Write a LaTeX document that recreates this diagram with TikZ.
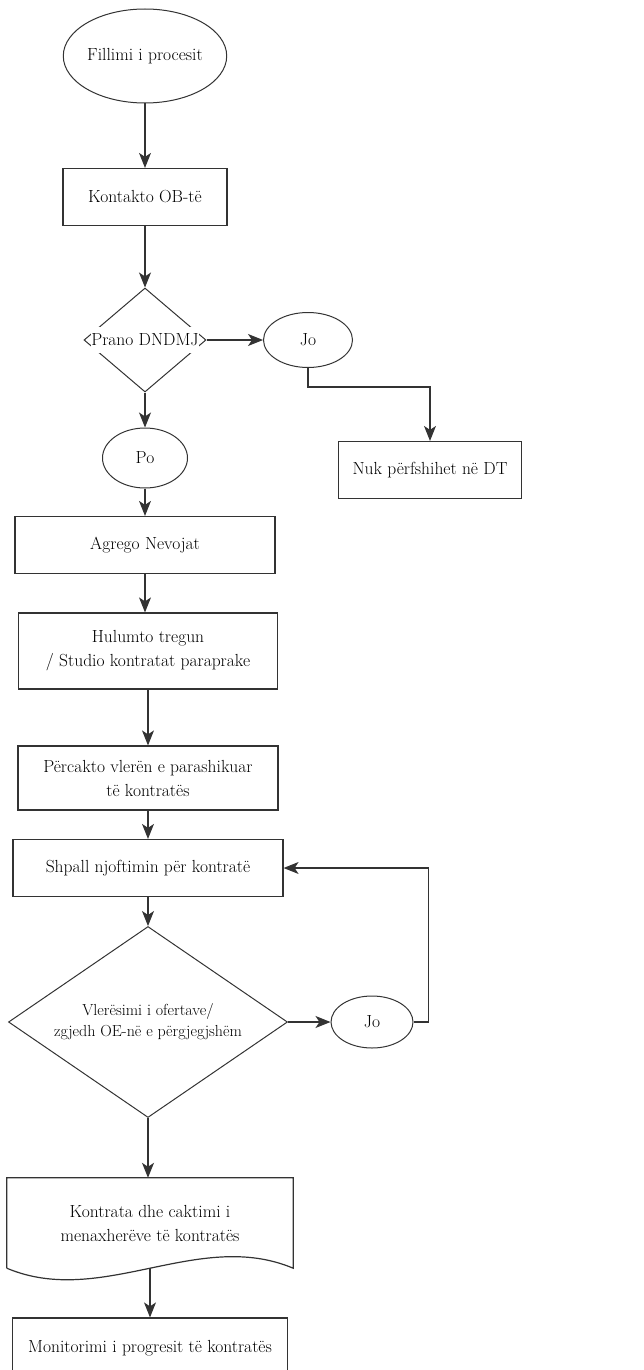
\documentclass[tikz,border=0pt]{standalone}
\usetikzlibrary{arrows.meta,positioning,shapes.geometric}
\definecolor{Edge}{HTML}{333333}

\begin{document}
\begin{tikzpicture}[x=1pt,y=-1pt,font=\fontsize{17.5}{24}\selectfont,
          flow/.style={-{Stealth[length=15pt,width=12pt,inset=4pt]},
            line width=1.1pt,draw=Edge},
          terminal/.style={ellipse,draw=Edge,line width=1pt,inner sep=0pt},
          stepbox/.style={rectangle,draw=Edge,line width=1.2pt,
            inner sep=0pt,align=center},
          decision/.style={diamond,draw=Edge,line width=1pt,inner sep=0pt}]
        \clip (0,0) rectangle (644,1370);

        \node[terminal,minimum width=156pt,minimum height=94pt]
          (start) at (145,56) {Fillimi i procesit};
        \node[stepbox,minimum width=164pt,minimum height=57pt]
          (kontakto) at (145,197) {Kontakto OB-të};

        \node[decision,minimum width=122pt,minimum height=104pt]
          (prano) at (145,340) {};
        \node[fill=white,inner sep=0pt,minimum width=108pt,minimum height=26pt]
          (pranolbl) at (prano.center) {Prano DNDMJ};
        \node[terminal,minimum width=89pt,minimum height=55pt]
          (jo1) at (308,340) {Jo};
        \node[stepbox,minimum width=183pt,minimum height=57pt]
          (nuk) at (430,470) {Nuk përfshihet në DT};
        \node[terminal,minimum width=85pt,minimum height=60pt]
          (po) at (145,458) {Po};

        \node[stepbox,minimum width=260pt,minimum height=57pt]
          (agrego) at (145,545) {Agrego Nevojat};
        \node[stepbox,minimum width=259pt,minimum height=76pt]
          (hulumto) at (148,651) {Hulumto tregun\\/ Studio kontratat paraprake};
        \node[stepbox,minimum width=260pt,minimum height=64pt]
          (percakto) at (148,778) {Përcakto vlerën e parashikuar\\të kontratës};
        \node[stepbox,minimum width=270pt,minimum height=57pt]
          (shpall) at (148,868) {Shpall njoftimin për kontratë};

        \node[decision,minimum width=279pt,minimum height=191pt]
          (vleresimi) at (148,1022) {};
        \node[font=\fontsize{16}{21}\selectfont,align=center,inner sep=0pt]
          (vleresimilbl) at (vleresimi.center)
          {Vlerësimi i ofertave/\\zgjedh OE-në e përgjegjshëm};
        \node[terminal,minimum width=82pt,minimum height=52pt]
          (jo2) at (372,1022) {Jo};

        % document shape: box without border, wavy bottom drawn by hand
        \node[rectangle,inner sep=0pt,minimum width=286pt,minimum height=90pt,
                align=center]
          (kontrata) at (150,1223)
          {Kontrata dhe caktimi i\\menaxherëve të kontratës};
        \draw[Edge,line width=1.2pt] (kontrata.south west) -- (kontrata.north west)
          -- (kontrata.north east) -- (kontrata.south east)
          .. controls +(-95,-40) and +(95,40) .. (kontrata.south west);
        \node[stepbox,minimum width=275pt,minimum height=60pt]
          (monitorimi) at (150,1348) {Monitorimi i progresit të kontratës};

        \draw[flow] (start) -- (kontakto);
        \draw[flow] (kontakto) -- (prano);
        \draw[flow] (prano.east) -- (jo1.west);
        \draw[flow] (jo1.south) -- ++(0,19) -| (nuk.north);
        \draw[flow] (prano.south) -- (po.north);
        \draw[flow] (po) -- (agrego);
        \draw[flow] (agrego.south) -- (agrego.south |- hulumto.north);
        \draw[flow] (hulumto) -- (percakto);
        \draw[flow] (percakto) -- (shpall);
        \draw[flow] (shpall.south) -- (vleresimi.north);
        \draw[flow] (vleresimi.east) -- (jo2.west);
        \draw[flow] (jo2.east) -- ++(15,0) |- (shpall.east);
        \draw[flow] (vleresimi.south) -- (vleresimi.south |- kontrata.north);
        \draw[flow] (kontrata.south) -- (monitorimi.north);
      \end{tikzpicture}
\end{document}
